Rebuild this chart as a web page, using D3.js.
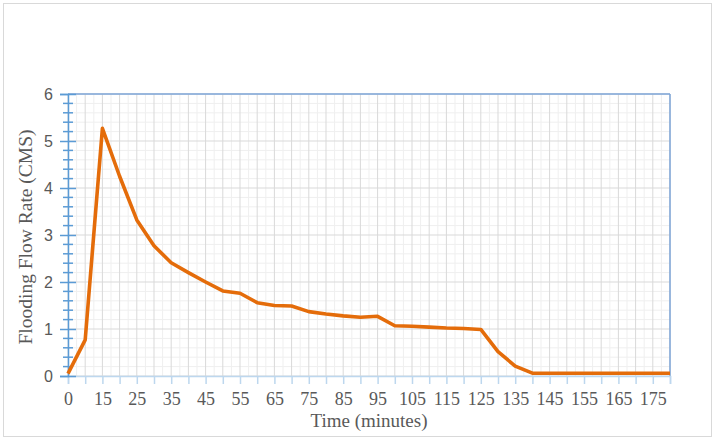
<!DOCTYPE html>
<html>
<head>
<meta charset="utf-8">
<script src="https://cdn.jsdelivr.net/npm/d3@7"></script>
<style>
  html, body { margin: 0; padding: 0; background: #fff; }
  svg { display: block; }
</style>
</head>
<body>
<svg id="chart" width="718" height="442"></svg>
<script>
// ---- data ----
const categories = ["0","8","15","20","25","30","35","40","45","50","55","60","65","70","75","80","85","90","95","100","105","110","115","120","125","130","135","140","145","150","155","160","165","170","175","180"];
const flowRate = [0.05,0.77,5.27,4.25,3.32,2.77,2.41,2.2,2.0,1.81,1.76,1.56,1.5,1.49,1.37,1.32,1.28,1.25,1.27,1.07,1.06,1.04,1.02,1.01,0.99,0.52,0.21,0.06,0.06,0.06,0.06,0.06,0.06,0.06,0.06,0.06];
const yTicks = [0,1,2,3,4,5,6];
const xLabelEvery = 2;
const xTitle = "Time (minutes)";
const yTitle = "Flooding Flow Rate (CMS)";

(function () {
// ---- layout ----
const pLeft = 68, pRight = 670, pTop = 94, pBottom = 376;
const svg = d3.select("#chart");
const textColor = "#595959";
const font = "'Liberation Serif', 'Times New Roman', serif";
const sans = "'Liberation Sans', Arial, sans-serif";

// outer border
svg.append("rect").attr("x", 3.5).attr("y", 3.5).attr("width", 708).attr("height", 433)
  .attr("fill", "#fff").attr("stroke", "#d9d9d9").attr("stroke-width", 1);

const x = d3.scalePoint().domain(categories).range([pLeft, pRight]);
const y = d3.scaleLinear().domain([0, 6]).range([pBottom, pTop]);
const step = x.step();

const g = svg.append("g");

// minor vertical gridlines (half category)
const minorX = categories.slice(0, -1).map(c => x(c) + step / 2);
g.append("g").selectAll("line").data(minorX).join("line")
  .attr("x1", d => d).attr("x2", d => d).attr("y1", pTop).attr("y2", pBottom)
  .attr("stroke", "#efefef").attr("stroke-width", 1);

// minor horizontal gridlines (0.2)
const minorY = d3.range(0, 6.0001, 0.2).filter(v => Math.abs(v - Math.round(v)) > 1e-6);
g.append("g").selectAll("line").data(minorY).join("line")
  .attr("x1", pLeft).attr("x2", pRight).attr("y1", d => y(d)).attr("y2", d => y(d))
  .attr("stroke", "#efefef").attr("stroke-width", 1);

// major vertical gridlines
g.append("g").selectAll("line").data(categories).join("line")
  .attr("x1", d => x(d)).attr("x2", d => x(d)).attr("y1", pTop).attr("y2", pBottom)
  .attr("stroke", "#d9d9d9").attr("stroke-width", 1);

// major horizontal gridlines
g.append("g").selectAll("line").data(yTicks).join("line")
  .attr("x1", pLeft).attr("x2", pRight).attr("y1", d => y(d)).attr("y2", d => y(d))
  .attr("stroke", "#d9d9d9").attr("stroke-width", 1);

// top and right border
svg.append("line").attr("x1", pLeft).attr("x2", pRight).attr("y1", pTop).attr("y2", pTop)
  .attr("stroke", "#7ea6d8").attr("stroke-width", 1.5);
svg.append("line").attr("x1", pRight).attr("x2", pRight).attr("y1", pTop).attr("y2", pBottom)
  .attr("stroke", "#7ea6d8").attr("stroke-width", 1.5);

// x axis
const xAxis = d3.axisBottom(x).tickSize(8).tickPadding(8)
  .tickFormat((d, i) => i % xLabelEvery === 0 ? d : "");
const xa = svg.append("g").attr("transform", `translate(0,${pBottom})`).call(xAxis);
xa.select(".domain").attr("stroke", "#bdd7ee").attr("stroke-width", 1.5);
xa.selectAll(".tick line").attr("stroke", "#bdd7ee").attr("stroke-width", 1.5);
xa.selectAll(".tick text").attr("fill", textColor).attr("font-family", font).attr("font-size", 18);

// y axis minor ticks
const ya = svg.append("g").attr("transform", `translate(${pLeft},0)`);
ya.selectAll("line.minor").data(minorY).join("line").attr("class", "minor")
  .attr("x1", -5).attr("x2", 5).attr("y1", d => y(d)).attr("y2", d => y(d))
  .attr("stroke", "#5b9bd5").attr("stroke-width", 1.5);
const yAxis = d3.axisLeft(y).tickValues(yTicks).tickSize(8).tickPadding(7).tickFormat(d3.format("d"));
ya.call(yAxis);
ya.select(".domain").attr("stroke", "#5b9bd5").attr("stroke-width", 1.5);
ya.selectAll(".tick line").attr("x1", 8).attr("x2", -8).attr("stroke", "#5b9bd5").attr("stroke-width", 1.5);
ya.selectAll(".tick text").attr("fill", textColor).attr("font-family", sans).attr("font-size", 16);

// line
const line = d3.line().x((d, i) => x(categories[i])).y(d => y(d));
svg.append("path").datum(flowRate).attr("d", line)
  .attr("fill", "none").attr("stroke", "#e46c0a").attr("stroke-width", 3.6)
  .attr("stroke-linejoin", "round");

// titles
svg.append("text").attr("x", 369).attr("y", 427).attr("text-anchor", "middle")
  .attr("fill", textColor).attr("font-family", font).attr("font-size", 19).text(xTitle);
svg.append("text").attr("transform", "translate(31.5,237) rotate(-90)").attr("text-anchor", "middle")
  .attr("fill", textColor).attr("font-family", font).attr("font-size", 19.5).text(yTitle);
})();
</script>
</body>
</html>
